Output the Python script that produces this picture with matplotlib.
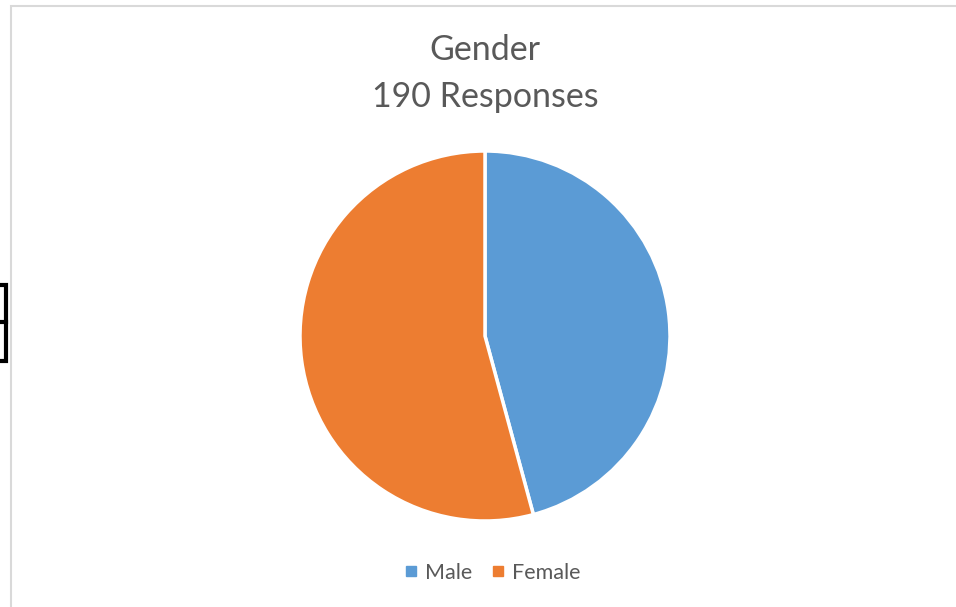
import matplotlib
matplotlib.use("Agg")
import matplotlib.pyplot as plt
from matplotlib.patches import Rectangle
from matplotlib.lines import Line2D

# data
labels = ["Male", "Female"]
counts = [87, 103]
colors = ["#5B9BD5", "#ED7D31"]
title_lines = ["Gender", "190 Responses"]

W, H = 956, 607
fig = plt.figure(figsize=(W / 100, H / 100), dpi=100)
plt.rcParams['font.family'] = ['Lato', 'DejaVu Sans']

def fx(x):
    return x / W

def fy(y):
    return 1 - y / H

# chart area border (only left/top visible)
fig.add_artist(Rectangle((fx(10.5), fy(700)), fx(1000), fy(5.5) - fy(700),
                         transform=fig.transFigure, fill=False,
                         edgecolor="#D9D9D9", linewidth=1.5))

# black cell fragment on the far left
fig.add_artist(Rectangle((fx(-10), fy(361)), fx(16), fy(285) - fy(361),
                         transform=fig.transFigure, fill=False,
                         edgecolor="black", linewidth=3))
fig.add_artist(Line2D([fx(-10), fx(6)], [fy(322), fy(322)],
                      transform=fig.transFigure, color="black", linewidth=3))

# pie
cx, cy, r = 485, 336, 185
ax = fig.add_axes([fx(cx - r), fy(cy + r), fx(2 * r), fy(cy - r) - fy(cy + r)])
ax.pie(counts, colors=colors, startangle=90, counterclock=False,
       wedgeprops=dict(edgecolor="white", linewidth=2.5))
ax.set_aspect("auto")
ax.set_xlim(-1, 1)
ax.set_ylim(-1, 1)
ax.axis("off")

# title
fig.text(fx(485), fy(50), title_lines[0], ha="center", va="center",
         fontsize=24.5, color="#595959")
fig.text(fx(485), fy(97), title_lines[1], ha="center", va="center",
         fontsize=24.5, color="#595959")

# legend
handles = [Line2D([], [], marker="s", linestyle="none", markersize=7,
                  markerfacecolor=c, markeredgecolor=c) for c in colors]
fig.legend(handles, labels, loc="center", bbox_to_anchor=(fx(490), fy(573)),
           ncol=2, frameon=False, fontsize=15.5, handletextpad=0.15,
           columnspacing=0.7, handlelength=1.0, labelcolor="#595959")

fig.savefig("out.png", dpi=100)
